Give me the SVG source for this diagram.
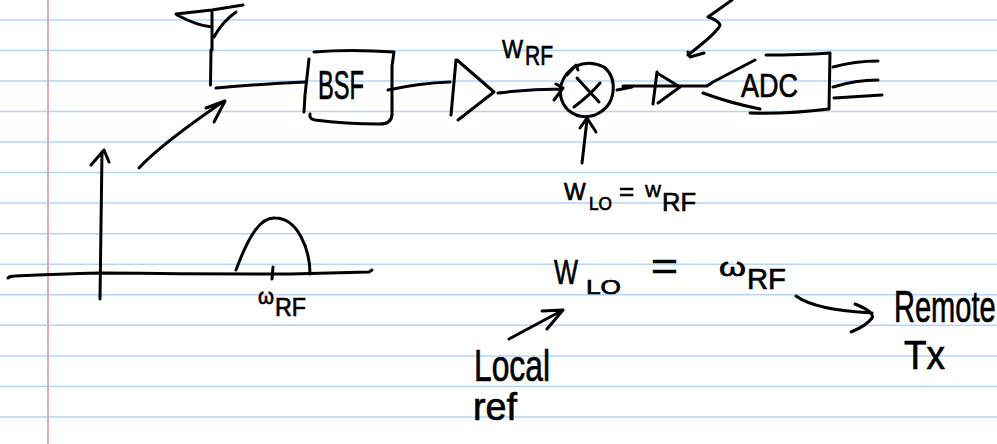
<svg xmlns="http://www.w3.org/2000/svg" width="997" height="444" viewBox="0 0 997 444">
<style>
.r{stroke:#b3d5f8;stroke-width:1.6;fill:none}
.m{stroke:#e3a6bd;stroke-width:2;fill:none}
path{fill:none;stroke:#000;stroke-width:3;stroke-linecap:round;stroke-linejoin:round}
.r,.m{stroke-linecap:butt}
text{font-family:"Liberation Sans","DejaVu Sans",sans-serif;fill:#000;stroke:#000;stroke-width:.7}
</style>
<rect width="997" height="444" fill="#fff"/>
<g id="paper">
<line class="r" x1="0" y1="20" x2="997" y2="20"/>
<line class="r" x1="0" y1="50.5" x2="997" y2="50.5"/>
<line class="r" x1="0" y1="81" x2="997" y2="81"/>
<line class="r" x1="0" y1="111.5" x2="997" y2="111.5"/>
<line class="r" x1="0" y1="142" x2="997" y2="142"/>
<line class="r" x1="0" y1="172.500" x2="997" y2="172.500"/>
<line class="r" x1="0" y1="203" x2="997" y2="203"/>
<line class="r" x1="0" y1="233.700" x2="997" y2="233.700"/>
<line class="r" x1="0" y1="264.300" x2="997" y2="264.300"/>
<line class="r" x1="0" y1="294.800" x2="997" y2="294.800"/>
<line class="r" x1="0" y1="325.300" x2="997" y2="325.300"/>
<line class="r" x1="0" y1="356" x2="997" y2="356"/>
<line class="r" x1="0" y1="386.500" x2="997" y2="386.500"/>
<line class="r" x1="0" y1="417" x2="997" y2="417"/>
<line class="m" x1="48" y1="0" x2="48" y2="444"/>
</g>
<g id="antenna">
<path d="M176 14L212 10L243 5M177 15Q198 26 212 27M212 10L212 50M211 50L210.500 85M236 12Q222 22 214 37"/>
<path d="M260 -1.500H300M345 -1.500H428"/>
</g>
<g id="bsf">
<path d="M309 59L305 95L304 112M314 52Q350 49 394 52L392 66L392 115Q391 124 380 124Q345 124 315 120Q309 119 310 114"/>
<text font-size="40" x="318" y="99" textLength="46" lengthAdjust="spacingAndGlyphs">BSF</text>
</g>
<g id="amp1">
<path d="M456 60L451 115M457 60L494 92L458 120"/>
</g>
<g id="mixer">
<path d="M576 66Q590 60 604 67Q615 76 613 92Q611 108 595 115Q580 120 568 110Q558 100 561 85Q565 72 576 66Z"/>
<path d="M577 78L599 102M574 107Q590 95 600 83"/>
</g>
<g id="amp2">
<path d="M657 72L653 104M657 73L680 87L658 103"/>
</g>
<g id="adc">
<path d="M755 60L713 82L707 86M703 93Q730 103 760 109M766 55Q800 55 830 53L829 109Q790 114 750 113"/>
<text font-size="33" x="741" y="97" textLength="57" lengthAdjust="spacingAndGlyphs">ADC</text>
</g>
<g id="spectrum">
<path d="M8 278Q10 276 15 276Q60 274 100 273Q200 274 290 274L369 272L372 270"/>
<path d="M102 152L100 299M91 165L104 150L109 162"/>
<path d="M236 270C250 232 262 217 275 218C298 218 310 250 310 274"/>
<path d="M273 267L272 279"/>
<text><tspan font-size="22" x="258" y="304" textLength="16" lengthAdjust="spacingAndGlyphs">ω</tspan><tspan font-size="26" x="275" y="316" textLength="31" lengthAdjust="spacingAndGlyphs">RF</tspan></text>
</g>
<g id="connectors">
<path d="M216 88Q260 84 306 82"/>
<path d="M388 90Q420 83 450 82"/>
<path d="M498 93Q530 89 562 89M554 100L563 88L556 84"/>
<path d="M139 168Q160 145 224 101M206 108L225 101L214 122"/>
<path d="M567 75L576 65L578 70"/>
<path d="M617 90L632 87M623 86H706"/>
<path d="M833 67Q855 61 878 61M833 87Q855 80 878 80M834 98L882 95"/>
<path d="M732 0L708 17Q718 20 720 25Q718 32 688 55M688 52L690 57L704 53"/>
<path d="M582 163L587 120M580 128L587 118L596 132"/>
<path d="M509 339L563 310M542 311L563 310L547 329"/>
<path d="M796 296Q815 310 872 313M855 304Q875 312 872 318Q866 326 851 332"/>
</g>
<g id="labels">
<text><tspan font-size="26" x="502" y="58" textLength="21" lengthAdjust="spacingAndGlyphs">W</tspan><tspan font-size="28" x="525" y="65" textLength="28" lengthAdjust="spacingAndGlyphs">RF</tspan></text>
<text font-size="23" x="564" y="200">W</text>
<text font-size="18" x="589" y="210" textLength="23" lengthAdjust="spacingAndGlyphs">LO</text>
<text font-size="26" x="619" y="200">=</text>
<text font-size="17" x="645" y="197">W</text>
<text font-size="26" x="662" y="211" textLength="34" lengthAdjust="spacingAndGlyphs">RF</text>
<text><tspan font-size="35" x="554" y="284" textLength="24" lengthAdjust="spacingAndGlyphs">W</tspan><tspan font-size="21" x="586" y="294" textLength="35" lengthAdjust="spacingAndGlyphs">LO</tspan><tspan font-size="40" x="651" y="280" textLength="27" lengthAdjust="spacingAndGlyphs">=</tspan><tspan font-size="26" x="719" y="276" textLength="27" lengthAdjust="spacingAndGlyphs">ω</tspan><tspan font-size="30" x="747" y="289" textLength="39" lengthAdjust="spacingAndGlyphs">RF</tspan></text>
<text font-size="44" transform="translate(894 322) scale(.66 1)">Remote</text>
<text font-size="40" x="904" y="369" textLength="41" lengthAdjust="spacingAndGlyphs">Tx</text>
<text font-size="44" x="474" y="381" textLength="76" lengthAdjust="spacingAndGlyphs">Local</text>
<text font-size="38" x="473" y="420" textLength="44" lengthAdjust="spacingAndGlyphs">ref</text>
</g>
</svg>
